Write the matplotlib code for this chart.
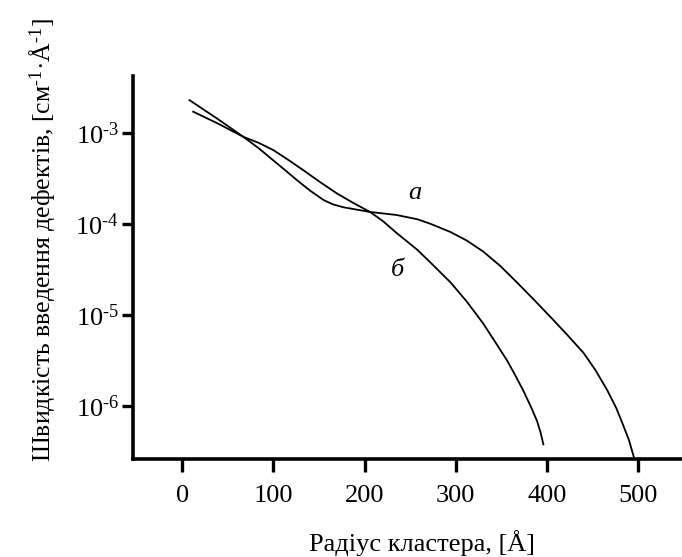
import matplotlib
matplotlib.use("Agg")
import matplotlib.pyplot as plt

# curve "a"
x_a = [8, 38, 67, 84, 100, 113, 126, 140, 155, 165, 177, 206, 235, 258, 272, 294, 312,
       330, 349, 367, 385, 404, 422, 440, 453, 466, 476, 484, 490, 495]
y_a = [2.30e-3, 1.45e-3, 9.1e-4, 6.8e-4, 5.0e-4, 3.9e-4, 3.03e-4, 2.34e-4, 1.84e-4,
       1.65e-4, 1.53e-4, 1.36e-4, 1.26e-4, 1.13e-4, 1.01e-4, 8.2e-5, 6.6e-5, 5.0e-5,
       3.45e-5, 2.29e-5, 1.50e-5, 9.5e-6, 6.1e-6, 3.85e-6, 2.5e-6, 1.5e-6, 9.5e-7,
       6.0e-7, 4.2e-7, 2.8e-7]

# curve "б"
x_b = [12, 40, 67, 84, 100, 116, 133, 150, 170, 188, 206, 220, 235, 258, 272, 294, 312,
       330, 343, 356, 365, 374, 382, 389, 393, 396]
y_b = [1.72e-3, 1.26e-3, 9.1e-4, 7.8e-4, 6.5e-4, 5.1e-4, 3.9e-4, 2.95e-4, 2.16e-4,
       1.70e-4, 1.36e-4, 1.08e-4, 8.0e-5, 5.2e-5, 3.8e-5, 2.3e-5, 1.41e-5, 8.1e-6,
       5.1e-6, 3.2e-6, 2.2e-6, 1.48e-6, 1.0e-6, 6.9e-7, 5.1e-7, 3.8e-7]

x_ticks = [0, 100, 200, 300, 400, 500]
y_ticks = [1e-3, 1e-4, 1e-5, 1e-6]
y_tick_labels = [r"$10^{\text{-}3}$", r"$10^{\text{-}4}$", r"$10^{\text{-}5}$", r"$10^{\text{-}6}$"]

plt.rcParams["font.family"] = ["Liberation Serif", "DejaVu Serif"]
plt.rcParams["mathtext.fontset"] = "custom"
plt.rcParams["mathtext.rm"] = "Liberation Serif"
plt.rcParams["mathtext.it"] = "Liberation Serif:italic"

fig = plt.figure(figsize=(6.82, 5.57), dpi=100)
ax = fig.add_axes([0.195, 0.176, 0.805, 0.688])

ax.plot(x_a, y_a, color="black", linewidth=1.3, solid_joinstyle="round")
ax.plot(x_b, y_b, color="black", linewidth=1.3, solid_joinstyle="round")

ax.set_yscale("log")
ax.set_xlim(-54, 548)
ax.set_ylim(10 ** -6.58, 10 ** -2.37)

ax.set_xticks(x_ticks)
ax.set_xticklabels([str(t) for t in x_ticks], fontsize=19)
ax.set_yticks(y_ticks)
ax.set_yticklabels(y_tick_labels, fontsize=19)
ax.minorticks_off()

for side in ["top", "right"]:
    ax.spines[side].set_visible(False)
for side in ["left", "bottom"]:
    ax.spines[side].set_linewidth(2.6)

ax.tick_params(axis="x", length=9, width=2.4, pad=10)
ax.tick_params(axis="y", length=8, width=2.4, pad=2)

ax.text(255, 2.2e-4, "a", fontsize=19, style="italic", ha="center", va="center")
ax.text(236, 3.1e-5, "б", fontsize=19, style="italic", ha="center", va="center")

fig.text(0.619, 0.025, "Радіус кластера, [Å]", fontsize=19, ha="center", va="center")
fig.text(0.062, 0.569, r"Швидкість введення дефектів, [см$^{\text{-}1}$·Å$^{\text{-}1}$]",
         fontsize=18.5, rotation=90, ha="center", va="center")

fig.savefig("out.png", dpi=100)
